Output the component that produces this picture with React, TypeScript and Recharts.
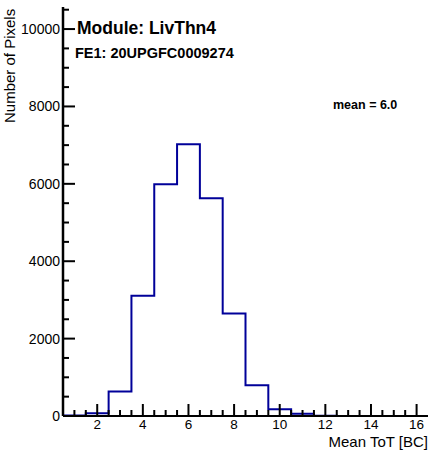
import { Line, LineChart, XAxis, YAxis } from 'recharts'

// bin edges of the histogram (1 BC wide, centred on integers)
const binEdges = [0.5, 1.5, 2.5, 3.5, 4.5, 5.5, 6.5, 7.5, 8.5, 9.5, 10.5, 11.5, 12.5, 13.5, 14.5, 15.5, 16.5]
const binCounts = [10, 70, 630, 3110, 5990, 7020, 5625, 2650, 795, 175, 55, 5, 0, 0, 0, 0]

const xTicks = [1, 1.5, 2, 2.5, 3, 3.5, 4, 4.5, 5, 5.5, 6, 6.5, 7, 7.5, 8, 8.5, 9, 9.5, 10, 10.5, 11, 11.5, 12, 12.5, 13, 13.5, 14, 14.5, 15, 15.5, 16]
const xLabels = [2, 4, 6, 8, 10, 12, 14, 16]
const yTicks = [0, 500, 1000, 1500, 2000, 2500, 3000, 3500, 4000, 4500, 5000, 5500, 6000, 6500, 7000, 7500, 8000, 8500, 9000, 9500, 10000, 10500]
const yLabels = [0, 2000, 4000, 6000, 8000, 10000]
const yMax = 10570

// stepAfter needs one extra point at the right edge
const chartData = binEdges.map((x, i) => ({
  x,
  count: binCounts[Math.min(i, binCounts.length - 1)],
}))

const font = '"Liberation Sans", Arial, sans-serif'

const XTick = ({ x, y, payload }: any) => {
  const v = payload.value
  const major = xLabels.includes(v)
  return (
    <g>
      <line x1={x} y1={y} x2={x} y2={y - (major ? 12 : 6)} stroke='#000' strokeWidth={2} />
      {major && (
        <text x={x} y={y + 13} textAnchor='middle' fontSize={13.5} fontFamily={font} fill='#000'>
          {v}
        </text>
      )}
    </g>
  )
}

const YTick = ({ x, y, payload }: any) => {
  const v = payload.value
  const major = yLabels.includes(v)
  return (
    <g>
      <line x1={x} y1={y} x2={x + (major ? 12 : 6)} y2={y} stroke='#000' strokeWidth={2} />
      {major && (
        <text x={x - 3} y={y} dy='0.36em' textAnchor='end' fontSize={14} fontFamily={font} fill='#000'>
          {v}
        </text>
      )}
    </g>
  )
}

export default function App() {
  return (
    <div style={{ position: 'absolute', left: 0, top: 0, width: 431, height: 455, background: '#fff' }}>
      <LineChart width={431} height={455} data={chartData} margin={{ top: 7, right: 3, left: 0, bottom: 0 }}>
        <XAxis
          dataKey='x'
          type='number'
          domain={[0.5, 16.5]}
          ticks={xTicks}
          interval={0}
          height={39}
          tickSize={0}
          tickMargin={0}
          tickLine={false}
          axisLine={{ stroke: '#000', strokeWidth: 2 }}
          tick={<XTick />}
        />
        <XAxis
          xAxisId='top'
          orientation='top'
          type='number'
          domain={[0.5, 16.5]}
          height={0}
          tick={false}
          tickLine={false}
          axisLine={{ stroke: '#000', strokeWidth: 2 }}
        />
        <YAxis
          type='number'
          domain={[0, yMax]}
          ticks={yTicks}
          interval={0}
          width={63}
          tickSize={0}
          tickMargin={0}
          tickLine={false}
          axisLine={{ stroke: '#000', strokeWidth: 2.5 }}
          tick={<YTick />}
        />
        <YAxis
          yAxisId='right'
          orientation='right'
          type='number'
          domain={[0, yMax]}
          width={0}
          tick={false}
          tickLine={false}
          axisLine={{ stroke: '#000', strokeWidth: 2 }}
        />
        <Line
          type='stepAfter'
          dataKey='count'
          stroke='#000099'
          strokeWidth={2}
          dot={false}
          isAnimationActive={false}
        />
      </LineChart>
      <svg width={431} height={455} style={{ position: 'absolute', left: 0, top: 0, pointerEvents: 'none' }}>
        <text x={77} y={34} fontSize={17.5} fontWeight='bold' fontFamily={font}>Module: LivThn4</text>
        <text x={75} y={58} fontSize={14.5} fontWeight='bold' fontFamily={font}>FE1: 20UPGFC0009274</text>
        <text x={333} y={109} fontSize={12.5} fontWeight='bold' fontFamily={font}>mean = 6.0</text>
        <text x={428} y={447} textAnchor='end' fontSize={15} fontFamily={font}>Mean ToT [BC]</text>
        <text x={14.5} y={123} transform='rotate(-90 14.5 123)' fontSize={15} fontFamily={font}>Number of Pixels</text>
      </svg>
    </div>
  )
}
